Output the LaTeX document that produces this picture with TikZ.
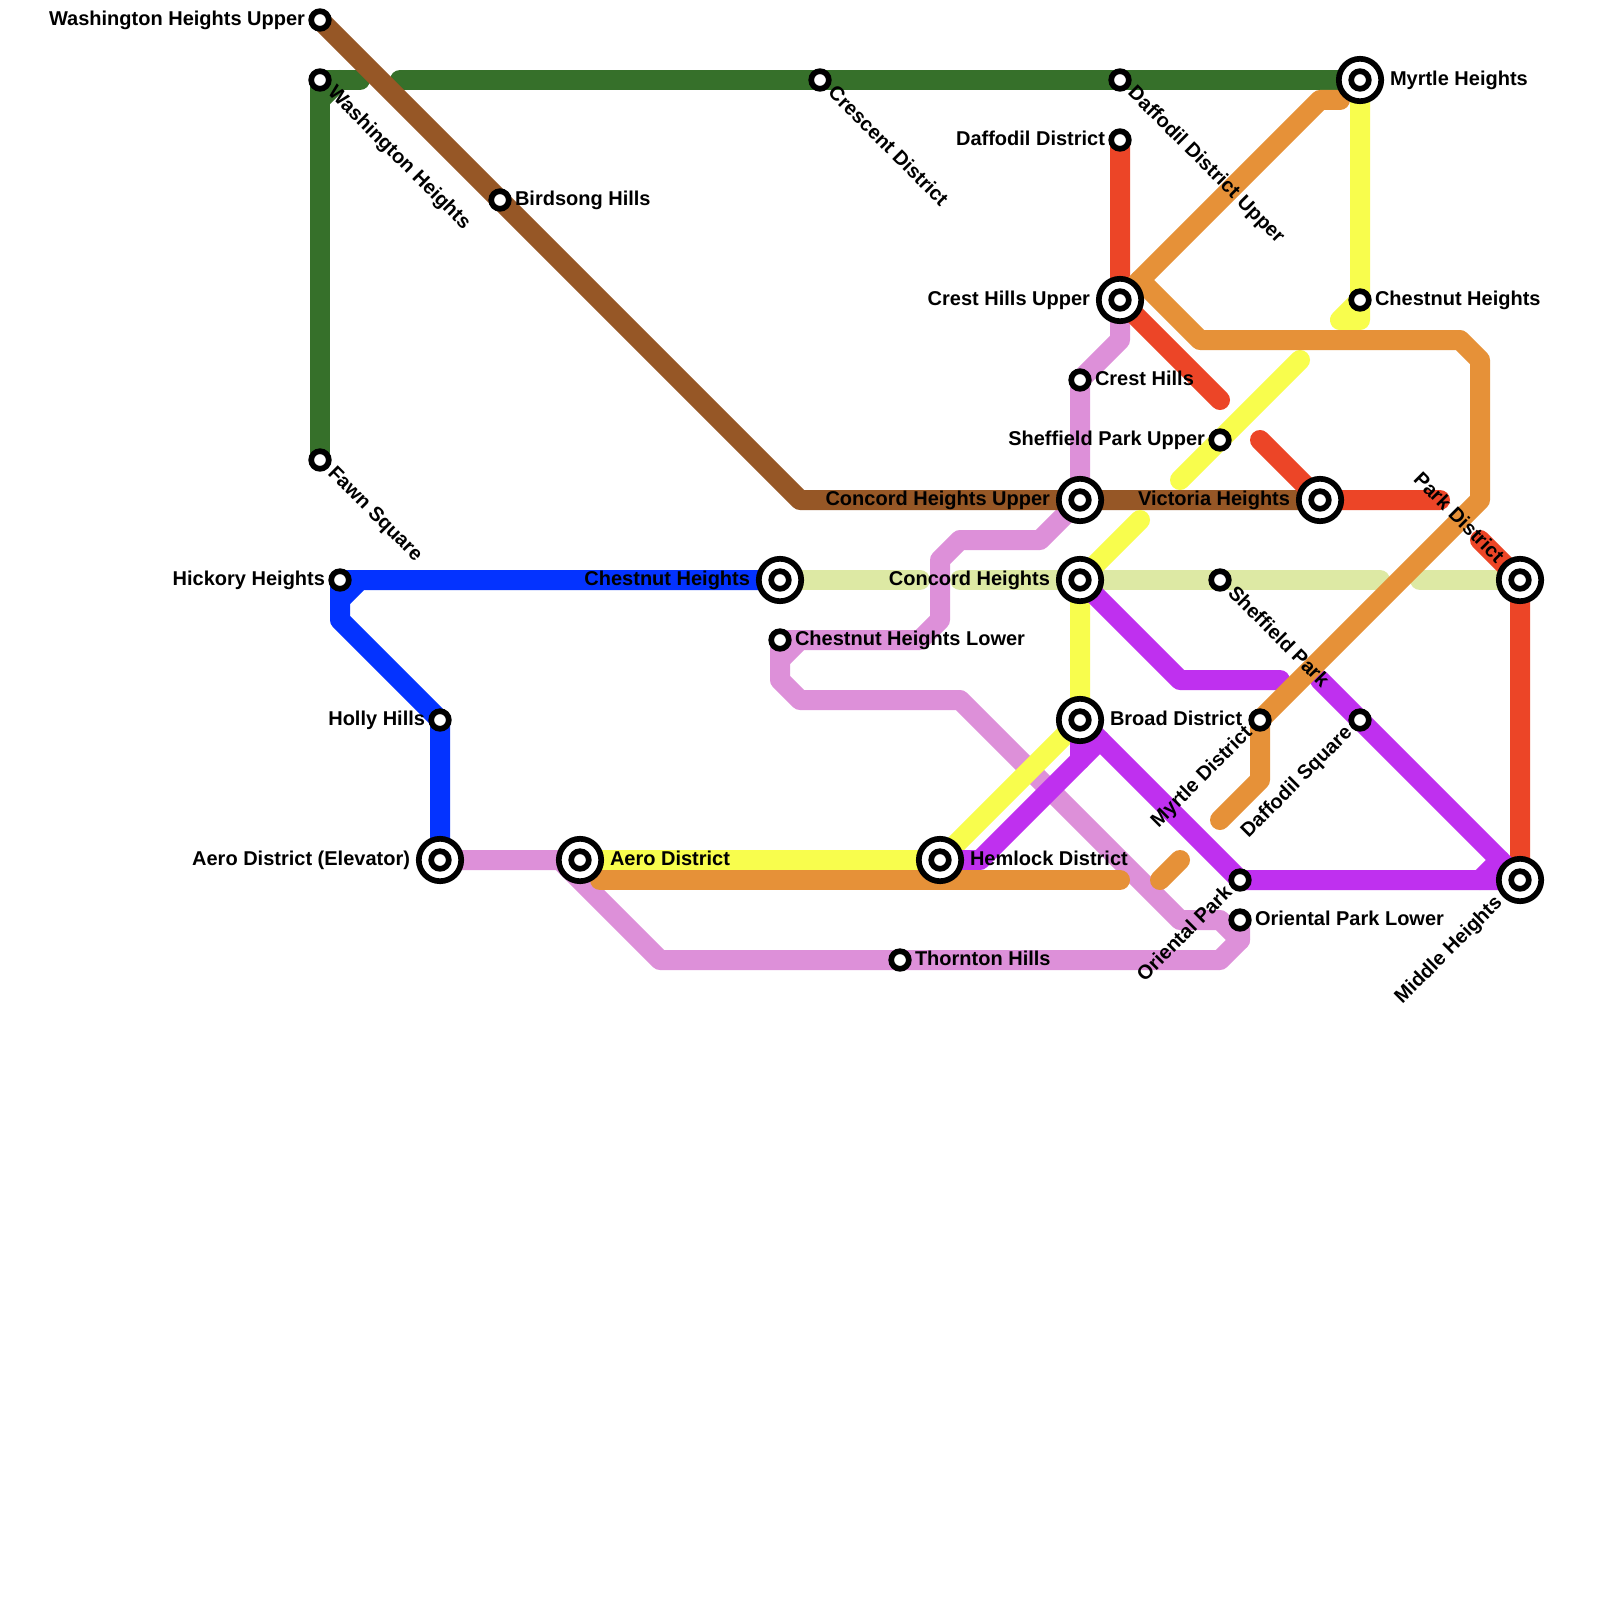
\documentclass[tikz,border=0pt]{standalone}
\usepackage{fontspec}
\setmainfont{Liberation Sans}
\pgfdeclarelayer{lines}
\pgfsetlayers{lines,main}
\definecolor{lnpink}{HTML}{DD90D9}
\definecolor{lngreen}{HTML}{36702A}
\definecolor{lnblue}{HTML}{0433FF}
\definecolor{lnpale}{HTML}{DDE9A4}
\definecolor{lnbrown}{HTML}{965726}
\definecolor{lnred}{HTML}{EC4527}
\definecolor{lnyellow}{HTML}{F8FD4D}
\definecolor{lnpurple}{HTML}{BF30EF}
\definecolor{lnorange}{HTML}{E69138}
\tikzset{
  x=1pt,y=-1pt,
  stn/.style={circle,draw=black,fill=white,line width=5.7pt,minimum size=17.6pt,inner sep=0pt,outer sep=0pt},
  hub/.style={circle,draw=black,fill=white,line width=5.7pt,minimum size=42.4pt,inner sep=0pt,outer sep=0pt,
    path picture={\draw[black,line width=5.7pt] (path picture bounding box.center) circle (8.8pt);}},
  txt/.style={font=\fontsize{20}{24}\selectfont\bfseries,inner sep=0pt,outer sep=0pt,text=black},
  tr/.style={txt,anchor=base west},
  tl/.style={txt,anchor=base east},
  tdr/.style={txt,anchor=base west,rotate=-45},
  tdl/.style={txt,anchor=base east,rotate=-45},
  tur/.style={txt,anchor=base east,rotate=45},
  ln/.style={line width=20pt,line cap=round,line join=round},
}
\begin{document}
\begin{tikzpicture}
\useasboundingbox (0,0) rectangle (1600,1600);
% stations
\node[stn] (wup) at (320,20) {};
\node[stn] (wh) at (320,80) {};
\node[stn] (bird) at (500,200) {};
\node[stn] (cres) at (820,80) {};
\node[stn] (dup) at (1120,80) {};
\node[stn] (dd) at (1120,140) {};
\node[hub] (myh) at (1360,80) {};
\node[stn] (chn) at (1360,300) {};
\node[hub] (chu) at (1120,300) {};
\node[stn] (crh) at (1080,380) {};
\node[stn] (spu) at (1220,440) {};
\node[hub] (cou) at (1080,500) {};
\node[hub] (vic) at (1320,500) {};
\node[stn] (fawn) at (320,460) {};
\node[stn] (hick) at (340,580) {};
\node[hub] (chh) at (780,580) {};
\node[hub] (con) at (1080,580) {};
\node[stn] (shp) at (1220,580) {};
\node[hub] (park) at (1520,580) {};
\node[stn] (chl) at (780,640) {};
\node[hub] (brd) at (1080,720) {};
\node[stn] (myd) at (1260,720) {};
\node[stn] (dsq) at (1360,720) {};
\node[stn] (holly) at (440,720) {};
\node[hub] (aee) at (440,860) {};
\node[hub] (aer) at (580,860) {};
\node[hub] (hem) at (940,860) {};
\node[stn] (ori) at (1240,880) {};
\node[hub] (mid) at (1520,880) {};
\node[stn] (orl) at (1240,920) {};
\node[stn] (tho) at (900,960) {};
% free line ends
\coordinate (g1) at (360,80);
\coordinate (g2) at (400,80);
\coordinate (r1) at (1220,400);
\coordinate (r2) at (1260,440);
\coordinate (r3) at (1440,500);
\coordinate (r4) at (1480,540);
\coordinate (y1) at (1300,360);
\coordinate (y2) at (1180,480);
\coordinate (y3) at (1140,520);
\coordinate (p1) at (920,580);
\coordinate (p2) at (960,580);
\coordinate (p3) at (1380,580);
\coordinate (p4) at (1420,580);
\coordinate (v1) at (1280,680);
\coordinate (v2) at (1320,680);
\coordinate (v3) at (980,860);
\coordinate (o1) at (1340,100);
\coordinate (o2) at (1220,820);
\coordinate (o3) at (600,880);
\coordinate (o4) at (1120,880);
\coordinate (o5) at (1160,880);
\coordinate (o6) at (1180,860);
% lines
\begin{pgfonlayer}{lines}
\fill[white] (0,0) rectangle (1600,1600);
\draw[ln,lnpink] (aee.center) -- (560,860) -- (660,960) -- (1220,960) -- (1240,940) -- (orl.center);
\draw[ln,lnpink] (1240,940) -- (1220,920) -- (1180,920) -- (960,700) -- (800,700) -- (780,680) -- (chl.center);
\draw[ln,lnpink] (780,660) -- (800,640) -- (920,640) -- (940,620) -- (940,560) -- (960,540) -- (1040,540) -- (cou.center) -- (crh.center) -- (1120,340) -- (chu.center);
\draw[ln,lnpink] (chl.center) -- (800,640);
\draw[ln,lngreen] (fawn.center) -- (wh.center) -- (g1);
\draw[ln,lngreen] (320,100) -- (340,80);
\draw[ln,lngreen] (g2) -- (myh.center);
\draw[ln,lnblue] (hick.center) -- (340,620) -- (holly.center) -- (aee.center);
\draw[ln,lnblue] (340,600) -- (360,580) -- (chh.center);
\draw[ln,lnblue] (hick.center) -- (360,580);
\draw[ln,lnpale] (chh.center) -- (p1);
\draw[ln,lnpale] (p2) -- (p3);
\draw[ln,lnpale] (p4) -- (park.center);
\draw[ln,lnbrown] (wup.center) -- (800,500) -- (vic.center);
\draw[ln,lnred] (dd.center) -- (chu.center) -- (r1);
\draw[ln,lnred] (r2) -- (vic.center) -- (r3);
\draw[ln,lnred] (r4) -- (park.center) -- (mid.center);
\draw[ln,lnyellow] (myh.center) -- (1360,320) -- (1340,320) -- (chn.center);
\draw[ln,lnyellow] (y1) -- (y2);
\draw[ln,lnyellow] (y3) -- (con.center) -- (brd.center) -- (hem.center) -- (aer.center);
\draw[ln,lnpurple] (con.center) -- (1180,680) -- (v1);
\draw[ln,lnpurple] (v2) -- (mid.center) -- (ori.center) -- (brd.center) -- (1080,760) -- (v3) -- (hem.center);
\draw[ln,lnpurple] (1080,760) -- (1100,740);
\draw[ln,lnpurple] (1480,880) -- (1500,860);
\draw[ln,lnorange] (chu.center) -- (1320,100) -- (o1);
\draw[ln,lnorange] (1140,280) -- (1200,340) -- (1460,340) -- (1480,360) -- (1480,500) -- (myd.center) -- (1260,780) -- (o2);
\draw[ln,lnorange] (o3) -- (o4);
\draw[ln,lnorange] (o5) -- (o6);
\end{pgfonlayer}
% labels
\node[tl] (t1) at (305,25.7) {Washington Heights Upper};
\node[tdr] (t2) at (327,94) {Washington Heights};
\node[tr] (t3) at (515,205) {Birdsong Hills};
\node[tdr] (t4) at (827,94) {Crescent District};
\node[tdr] (t5) at (1127,94) {Daffodil District Upper};
\node[tl] (t6) at (1105,145.7) {Daffodil District};
\node[tr] (t7) at (1390,85.7) {Myrtle Heights};
\node[tr] (t8) at (1375,305) {Chestnut Heights};
\node[tl] (t9) at (1090,305) {Crest Hills Upper};
\node[tr] (t10) at (1095,385) {Crest Hills};
\node[tl] (t11) at (1205,445) {Sheffield Park Upper};
\node[tl] (t12) at (1050,505) {Concord Heights Upper};
\node[tl] (t13) at (1290,505) {Victoria Heights};
\node[tdr] (t14) at (327,474) {Fawn Square};
\node[tl] (t15) at (325,585) {Hickory Heights};
\node[tl] (t16) at (750,585) {Chestnut Heights};
\node[tl] (t17) at (1050,585) {Concord Heights};
\node[tdr] (t18) at (1227,594) {Sheffield Park};
\node[tdl] (t19) at (1496,564) {Park District};
\node[tr] (t20) at (795,645) {Chestnut Heights Lower};
\node[tr] (t21) at (1110,725) {Broad District};
\node[tur] (t22) at (1253,734) {Myrtle District};
\node[tur] (t23) at (1353,734) {Daffodil Square};
\node[tl] (t24) at (425,725) {Holly Hills};
\node[tl] (t25) at (410,865) {Aero District (Elevator)};
\node[tr] (t26) at (610,865) {Aero District};
\node[tr] (t27) at (970,865) {Hemlock District};
\node[tur] (t28) at (1233,894) {Oriental Park};
\node[tur] (t29) at (1503,904) {Middle Heights};
\node[tr] (t30) at (1255,925) {Oriental Park Lower};
\node[tr] (t31) at (915,965) {Thornton Hills};
\end{tikzpicture}
\end{document}
